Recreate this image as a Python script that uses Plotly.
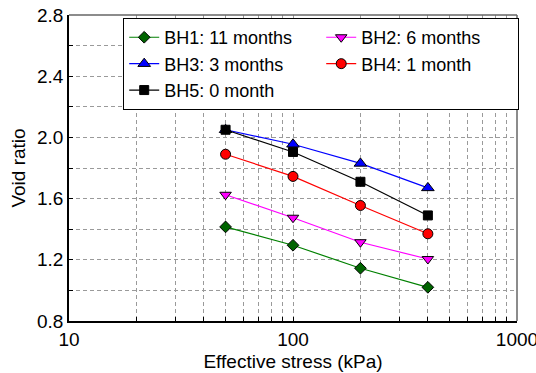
import plotly.graph_objects as go

stress = [50, 100, 200, 400]
bh1 = [1.415, 1.295, 1.145, 1.02]
bh2 = [1.625, 1.475, 1.315, 1.205]
bh3 = [2.05, 1.955, 1.83, 1.67]
bh4 = [1.89, 1.745, 1.555, 1.37]
bh5 = [2.05, 1.905, 1.71, 1.49]

names = ["BH1: 11 months", "BH2: 6 months", "BH3: 3 months", "BH4: 1 month", "BH5: 0 month"]
series = [bh1, bh2, bh3, bh4, bh5]
line_colors = ["#008000", "#ff00ff", "#0000ff", "#ff0000", "#000000"]
fill_colors = ["#006400", "#ff00ff", "#0000ff", "#ff0000", "#000000"]
symbols = ["diamond", "triangle-down", "triangle-up", "circle", "square"]
sizes = [9, 10, 11, 10, 9]

x_tickvals = [10, 20, 30, 40, 50, 60, 70, 80, 90, 100, 200, 300, 400, 500, 600, 700, 800, 900, 1000]
x_ticktext = ["10" if v == 10 else "100" if v == 100 else "1000" if v == 1000 else "" for v in x_tickvals]
y_tickvals = [0.8, 1.0, 1.2, 1.4, 1.6, 1.8, 2.0, 2.2, 2.4, 2.6, 2.8]
y_ticktext = ["0.8", "", "1.2", "", "1.6", "", "2.0", "", "2.4", "", "2.8"]

fig = go.Figure()
for n, s, lc, fc, sym, sz in zip(names, series, line_colors, fill_colors, symbols, sizes):
    fig.add_trace(go.Scatter(
        x=stress, y=s, name=n, mode="lines+markers",
        line=dict(color=lc, width=1.2),
        marker=dict(symbol=sym, size=sz, color=fc, line=dict(color="#000000", width=1)),
    ))

font = "Liberation Sans, Arial, sans-serif"
fig.update_layout(
    width=536, height=373,
    margin=dict(l=69, r=19, t=15, b=52),
    plot_bgcolor="white", paper_bgcolor="white",
    font=dict(family=font, size=19, color="#000000"),
    legend=dict(
        orientation="h", x=0.121, y=0.99, xanchor="left", yanchor="top",
        bgcolor="white", bordercolor="#000000", borderwidth=1,
        font=dict(size=18), entrywidth=152, tracegroupgap=0,
    ),
    shapes=[
        dict(type="line", xref="paper", yref="paper", x0=0, x1=1, y0=1, y1=1,
             line=dict(color="#666666", width=1.5)),
        dict(type="line", xref="paper", yref="paper", x0=1, x1=1, y0=0, y1=1,
             line=dict(color="#666666", width=1.5)),
    ],
)
fig.update_xaxes(
    type="log", range=[1, 3], automargin=False,
    tickvals=x_tickvals, ticktext=x_ticktext,
    showgrid=True, gridcolor="#9a9a9a", griddash="4px,3px", gridwidth=1,
    showline=True, linecolor="#000000", linewidth=1.5,
    ticks="inside", ticklen=4, tickcolor="#000000",
    zeroline=False, ticklabeloverflow="allow",
    title=dict(text="Effective stress (kPa)", standoff=6, font=dict(size=19)),
    tickfont=dict(size=19),
)
fig.update_yaxes(
    range=[0.8, 2.8], automargin=False,
    tickvals=y_tickvals, ticktext=y_ticktext,
    showgrid=True, gridcolor="#9a9a9a", griddash="4px,3px", gridwidth=1,
    showline=True, linecolor="#000000", linewidth=1.5,
    ticks="inside", ticklen=4, tickcolor="#000000",
    zeroline=False,
    title=dict(text="Void ratio", standoff=6, font=dict(size=19)),
    tickfont=dict(size=19),
)

fig.write_html("out.html")
